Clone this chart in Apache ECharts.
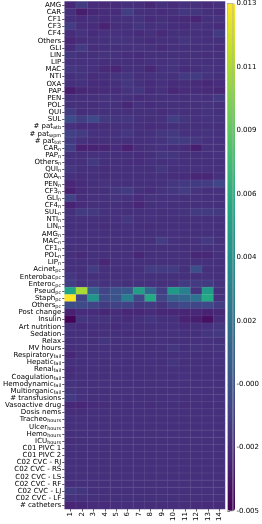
<!DOCTYPE html>
<html><head><meta charset="utf-8">
<script src="https://cdn.jsdelivr.net/npm/echarts@6/dist/echarts.min.js"></script>
<style>html,body{margin:0;padding:0;background:#fff}#c{width:262px;height:524px}</style>
</head><body><div id="c"></div>
<script>
// Row labels; text after '|' is rendered as a subscript
const rowLabels = ['AMG','CAR','CF1','CF3','CF4','Others','GLI','LIN','LIP','MAC','NTI','OXA','PAP','PEN','POL','QUI','SUL',
 '# pat|atb','# pat|wpm','# pat|tot','CAR|n','PAP|n','Others|n','QUI|n','OXA|n','PEN|n','CF3|n','GLI|n','CF4|n','SUL|n','NTI|n',
 'LIN|n','AMG|n','MAC|n','CF1|n','POL|n','LIP|n','Acinet|pc','Enterobac|pc','Enteroc|pc','Pseud|pc','Staph|pc','Others|pc',
 'Post change','Insulin','Art nutrition','Sedation','Relax','MV hours','Respiratory|fail','Hepatic|fail','Renal|fail',
 'Coagulation|fail','Hemodynamic|fail','Multiorganic|fail','# transfusions','Vasoactive drug','Dosis nems','Tracheo|hours',
 'Ulcer|hours','Hemo|hours','ICU|hours','C01 PIVC 1','C01 PIVC 2','C02 CVC - RJ','C02 CVC - RS','C02 CVC - LS','C02 CVC - RF',
 'C02 CVC - LJ','C02 CVC - LF','# catheters'];
const colLabels = ['1','2','3','4','5','6','7','8','9','10','11','12','13','14'];
const cbTickLabels = ['-0.005','-0.002','-0.000','0.002','0.004','0.006','0.009','0.011','0.013'];
const vMin = -0.0046;
const vMax = 0.0130;
const values = [
 [-0.0026,-0.0016,-0.0024,-0.0025,-0.0024,-0.0022,-0.0023,-0.0026,-0.0022,-0.0024,-0.0021,-0.0022,-0.0024,-0.0022],
 [-0.0022,-0.0032,-0.0026,-0.0024,-0.0024,-0.0014,-0.0022,-0.0022,-0.0024,-0.0022,-0.0018,-0.0019,-0.0022,-0.0024],
 [-0.0022,-0.0024,-0.0022,-0.0024,-0.0022,-0.0021,-0.0020,-0.0024,-0.0022,-0.0024,-0.0025,-0.0028,-0.0022,-0.0020],
 [-0.0015,-0.0023,-0.0024,-0.0029,-0.0023,-0.0022,-0.0019,-0.0022,-0.0021,-0.0023,-0.0024,-0.0020,-0.0022,-0.0024],
 [-0.0024,-0.0020,-0.0024,-0.0021,-0.0021,-0.0022,-0.0024,-0.0022,-0.0025,-0.0022,-0.0022,-0.0022,-0.0022,-0.0016],
 [-0.0027,-0.0023,-0.0022,-0.0022,-0.0020,-0.0020,-0.0022,-0.0024,-0.0022,-0.0022,-0.0019,-0.0021,-0.0022,-0.0022],
 [-0.0024,-0.0016,-0.0023,-0.0022,-0.0022,-0.0021,-0.0020,-0.0022,-0.0024,-0.0022,-0.0022,-0.0022,-0.0022,-0.0023],
 [-0.0019,-0.0022,-0.0022,-0.0020,-0.0021,-0.0023,-0.0024,-0.0022,-0.0022,-0.0022,-0.0022,-0.0022,-0.0023,-0.0022],
 [-0.0021,-0.0021,-0.0021,-0.0023,-0.0022,-0.0022,-0.0023,-0.0021,-0.0021,-0.0020,-0.0022,-0.0021,-0.0022,-0.0021],
 [-0.0018,-0.0020,-0.0021,-0.0025,-0.0028,-0.0022,-0.0022,-0.0026,-0.0021,-0.0020,-0.0024,-0.0022,-0.0020,-0.0021],
 [-0.0022,-0.0020,-0.0024,-0.0022,-0.0020,-0.0019,-0.0022,-0.0021,-0.0020,-0.0021,-0.0017,-0.0016,-0.0020,-0.0022],
 [-0.0022,-0.0021,-0.0024,-0.0024,-0.0022,-0.0018,-0.0022,-0.0024,-0.0021,-0.0024,-0.0023,-0.0025,-0.0026,-0.0024],
 [-0.0032,-0.0026,-0.0025,-0.0024,-0.0024,-0.0020,-0.0019,-0.0024,-0.0021,-0.0027,-0.0024,-0.0024,-0.0025,-0.0026],
 [-0.0022,-0.0022,-0.0022,-0.0020,-0.0021,-0.0022,-0.0024,-0.0022,-0.0022,-0.0021,-0.0022,-0.0020,-0.0021,-0.0017],
 [-0.0022,-0.0022,-0.0023,-0.0021,-0.0022,-0.0026,-0.0021,-0.0024,-0.0022,-0.0022,-0.0022,-0.0022,-0.0020,-0.0022],
 [-0.0016,-0.0023,-0.0022,-0.0022,-0.0022,-0.0022,-0.0022,-0.0022,-0.0023,-0.0021,-0.0022,-0.0022,-0.0020,-0.0022],
 [-0.0006,-0.0014,-0.0008,-0.0017,-0.0019,-0.0018,-0.0021,-0.0022,-0.0021,-0.0014,-0.0019,-0.0021,-0.0020,-0.0020],
 [-0.0021,-0.0024,-0.0024,-0.0023,-0.0022,-0.0021,-0.0022,-0.0024,-0.0023,-0.0022,-0.0022,-0.0022,-0.0022,-0.0022],
 [-0.0013,-0.0015,-0.0021,-0.0021,-0.0021,-0.0018,-0.0022,-0.0021,-0.0018,-0.0017,-0.0021,-0.0021,-0.0020,-0.0021],
 [-0.0016,-0.0021,-0.0023,-0.0022,-0.0022,-0.0022,-0.0022,-0.0021,-0.0020,-0.0016,-0.0016,-0.0018,-0.0021,-0.0021],
 [-0.0014,-0.0030,-0.0029,-0.0028,-0.0024,-0.0030,-0.0023,-0.0022,-0.0021,-0.0023,-0.0024,-0.0031,-0.0021,-0.0022],
 [-0.0022,-0.0022,-0.0021,-0.0021,-0.0022,-0.0022,-0.0024,-0.0022,-0.0018,-0.0019,-0.0022,-0.0022,-0.0022,-0.0021],
 [-0.0021,-0.0022,-0.0017,-0.0022,-0.0022,-0.0023,-0.0024,-0.0021,-0.0022,-0.0021,-0.0022,-0.0022,-0.0022,-0.0022],
 [-0.0018,-0.0022,-0.0022,-0.0023,-0.0022,-0.0022,-0.0022,-0.0022,-0.0018,-0.0022,-0.0021,-0.0021,-0.0021,-0.0022],
 [-0.0022,-0.0023,-0.0022,-0.0023,-0.0022,-0.0022,-0.0022,-0.0022,-0.0022,-0.0023,-0.0024,-0.0027,-0.0027,-0.0022],
 [-0.0027,-0.0024,-0.0022,-0.0020,-0.0021,-0.0022,-0.0022,-0.0022,-0.0021,-0.0018,-0.0017,-0.0016,-0.0015,-0.0010],
 [-0.0030,-0.0024,-0.0022,-0.0022,-0.0019,-0.0016,-0.0022,-0.0024,-0.0020,-0.0018,-0.0015,-0.0020,-0.0022,-0.0021],
 [-0.0012,-0.0023,-0.0021,-0.0021,-0.0020,-0.0021,-0.0024,-0.0020,-0.0021,-0.0021,-0.0022,-0.0021,-0.0022,-0.0022],
 [-0.0029,-0.0024,-0.0022,-0.0022,-0.0022,-0.0023,-0.0027,-0.0022,-0.0021,-0.0022,-0.0022,-0.0022,-0.0022,-0.0022],
 [-0.0022,-0.0016,-0.0017,-0.0021,-0.0021,-0.0022,-0.0022,-0.0021,-0.0022,-0.0021,-0.0020,-0.0016,-0.0016,-0.0017],
 [-0.0022,-0.0022,-0.0022,-0.0022,-0.0021,-0.0018,-0.0022,-0.0021,-0.0022,-0.0022,-0.0022,-0.0021,-0.0022,-0.0022],
 [-0.0022,-0.0022,-0.0022,-0.0023,-0.0022,-0.0021,-0.0022,-0.0023,-0.0022,-0.0022,-0.0022,-0.0022,-0.0021,-0.0022],
 [-0.0022,-0.0022,-0.0021,-0.0022,-0.0022,-0.0022,-0.0022,-0.0022,-0.0022,-0.0021,-0.0022,-0.0022,-0.0022,-0.0022],
 [-0.0021,-0.0022,-0.0022,-0.0022,-0.0022,-0.0022,-0.0022,-0.0022,-0.0015,-0.0021,-0.0022,-0.0021,-0.0017,-0.0022],
 [-0.0022,-0.0022,-0.0022,-0.0022,-0.0022,-0.0022,-0.0022,-0.0022,-0.0022,-0.0022,-0.0022,-0.0022,-0.0022,-0.0021],
 [-0.0022,-0.0025,-0.0022,-0.0022,-0.0022,-0.0022,-0.0027,-0.0022,-0.0022,-0.0022,-0.0022,-0.0027,-0.0026,-0.0022],
 [-0.0022,-0.0022,-0.0022,-0.0027,-0.0022,-0.0022,-0.0022,-0.0022,-0.0022,-0.0022,-0.0022,-0.0022,-0.0022,-0.0022],
 [-0.0022,-0.0022,-0.0015,-0.0022,-0.0022,-0.0022,-0.0022,-0.0015,-0.0016,-0.0016,-0.0022,-0.0004,-0.0022,-0.0022],
 [-0.0018,-0.0022,-0.0022,-0.0022,-0.0022,-0.0022,-0.0021,-0.0022,-0.0022,-0.0022,-0.0022,-0.0022,-0.0021,-0.0022],
 [-0.0014,-0.0020,-0.0018,-0.0021,-0.0020,-0.0022,-0.0021,-0.0021,-0.0022,-0.0021,-0.0016,-0.0016,-0.0016,-0.0021],
 [0.0056,0.0107,0.0008,-0.0011,-0.0002,0.0002,0.0052,0.0012,-0.0014,0.0048,0.0030,-0.0020,0.0050,-0.0022],
 [0.0130,-0.0011,0.0045,-0.0006,-0.0001,0.0028,-0.0009,0.0060,-0.0011,0.0009,0.0012,0.0020,0.0060,-0.0020],
 [-0.0006,-0.0006,-0.0011,-0.0016,-0.0012,-0.0012,-0.0018,-0.0016,-0.0020,-0.0012,-0.0008,-0.0010,-0.0008,-0.0015],
 [-0.0030,-0.0024,-0.0024,-0.0026,-0.0024,-0.0027,-0.0026,-0.0024,-0.0026,-0.0027,-0.0028,-0.0026,-0.0029,-0.0026],
 [-0.0044,-0.0019,-0.0020,-0.0020,-0.0022,-0.0024,-0.0022,-0.0019,-0.0022,-0.0022,-0.0029,-0.0031,-0.0038,-0.0024],
 [-0.0022,-0.0024,-0.0022,-0.0022,-0.0024,-0.0022,-0.0023,-0.0022,-0.0021,-0.0021,-0.0024,-0.0022,-0.0021,-0.0018],
 [-0.0022,-0.0022,-0.0023,-0.0022,-0.0022,-0.0023,-0.0023,-0.0022,-0.0022,-0.0021,-0.0022,-0.0022,-0.0019,-0.0017],
 [-0.0022,-0.0021,-0.0022,-0.0019,-0.0022,-0.0021,-0.0022,-0.0022,-0.0021,-0.0022,-0.0022,-0.0021,-0.0021,-0.0022],
 [-0.0023,-0.0022,-0.0022,-0.0021,-0.0022,-0.0022,-0.0022,-0.0022,-0.0022,-0.0019,-0.0022,-0.0020,-0.0021,-0.0020],
 [-0.0026,-0.0022,-0.0022,-0.0021,-0.0022,-0.0021,-0.0022,-0.0022,-0.0022,-0.0022,-0.0021,-0.0022,-0.0022,-0.0021],
 [-0.0022,-0.0022,-0.0021,-0.0022,-0.0021,-0.0022,-0.0022,-0.0021,-0.0022,-0.0019,-0.0022,-0.0022,-0.0022,-0.0021],
 [-0.0024,-0.0022,-0.0022,-0.0022,-0.0022,-0.0022,-0.0022,-0.0022,-0.0022,-0.0021,-0.0022,-0.0022,-0.0022,-0.0022],
 [-0.0023,-0.0022,-0.0022,-0.0022,-0.0021,-0.0022,-0.0022,-0.0022,-0.0022,-0.0022,-0.0021,-0.0022,-0.0022,-0.0022],
 [-0.0020,-0.0022,-0.0022,-0.0021,-0.0022,-0.0022,-0.0022,-0.0022,-0.0021,-0.0022,-0.0022,-0.0022,-0.0022,-0.0022],
 [-0.0019,-0.0021,-0.0022,-0.0022,-0.0022,-0.0021,-0.0022,-0.0022,-0.0022,-0.0022,-0.0022,-0.0021,-0.0022,-0.0022],
 [-0.0016,-0.0021,-0.0022,-0.0022,-0.0021,-0.0022,-0.0022,-0.0022,-0.0022,-0.0021,-0.0022,-0.0022,-0.0022,-0.0021],
 [-0.0026,-0.0027,-0.0024,-0.0023,-0.0022,-0.0023,-0.0022,-0.0023,-0.0022,-0.0022,-0.0023,-0.0022,-0.0023,-0.0022],
 [-0.0023,-0.0023,-0.0022,-0.0022,-0.0022,-0.0022,-0.0022,-0.0022,-0.0022,-0.0022,-0.0022,-0.0022,-0.0022,-0.0022],
 [-0.0022,-0.0022,-0.0022,-0.0022,-0.0022,-0.0022,-0.0022,-0.0022,-0.0022,-0.0022,-0.0022,-0.0022,-0.0022,-0.0022],
 [-0.0022,-0.0022,-0.0022,-0.0022,-0.0022,-0.0022,-0.0022,-0.0022,-0.0022,-0.0022,-0.0022,-0.0022,-0.0022,-0.0022],
 [-0.0022,-0.0022,-0.0022,-0.0022,-0.0022,-0.0022,-0.0022,-0.0022,-0.0022,-0.0022,-0.0022,-0.0022,-0.0022,-0.0022],
 [-0.0023,-0.0022,-0.0022,-0.0022,-0.0022,-0.0022,-0.0022,-0.0022,-0.0022,-0.0022,-0.0022,-0.0022,-0.0022,-0.0022],
 [-0.0022,-0.0022,-0.0022,-0.0022,-0.0022,-0.0022,-0.0022,-0.0022,-0.0022,-0.0022,-0.0022,-0.0022,-0.0022,-0.0022],
 [-0.0022,-0.0022,-0.0022,-0.0022,-0.0022,-0.0022,-0.0022,-0.0022,-0.0022,-0.0022,-0.0022,-0.0022,-0.0022,-0.0022],
 [-0.0022,-0.0022,-0.0022,-0.0022,-0.0022,-0.0022,-0.0022,-0.0022,-0.0022,-0.0022,-0.0022,-0.0022,-0.0022,-0.0022],
 [-0.0022,-0.0022,-0.0022,-0.0022,-0.0022,-0.0022,-0.0022,-0.0022,-0.0022,-0.0022,-0.0022,-0.0022,-0.0022,-0.0022],
 [-0.0022,-0.0022,-0.0022,-0.0022,-0.0022,-0.0022,-0.0022,-0.0022,-0.0022,-0.0022,-0.0022,-0.0022,-0.0022,-0.0022],
 [-0.0023,-0.0022,-0.0022,-0.0022,-0.0022,-0.0022,-0.0022,-0.0022,-0.0022,-0.0022,-0.0022,-0.0022,-0.0022,-0.0022],
 [-0.0016,-0.0019,-0.0022,-0.0022,-0.0022,-0.0022,-0.0022,-0.0022,-0.0022,-0.0022,-0.0022,-0.0022,-0.0022,-0.0022],
 [-0.0020,-0.0021,-0.0022,-0.0022,-0.0022,-0.0022,-0.0022,-0.0022,-0.0022,-0.0022,-0.0022,-0.0022,-0.0022,-0.0022],
 [-0.0028,-0.0026,-0.0024,-0.0024,-0.0023,-0.0023,-0.0023,-0.0023,-0.0023,-0.0023,-0.0023,-0.0024,-0.0024,-0.0024]
];
const viridis = ['#440154','#482475','#414487','#355f8d','#2a788e','#21918c','#22a884','#44bf70','#7ad151','#bddf26','#fde725'];

const data = [];
values.forEach((row, r) => row.forEach((v, c) => data.push([c, r, v])));

const FONT = 'DejaVu Sans';
const chart = echarts.init(document.getElementById('c'), null, {renderer: 'canvas'});
chart.setOption({
  animation: false,
  backgroundColor: '#fff',
  grid: [
    {left: 61.5, top: 1.5, width: 163.5, height: 507.5},
    {left: 227.5, top: 3, width: 7.5, height: 508, show: true, borderColor: '#b0b0b0', borderWidth: 0.8, z: 10}
  ],
  xAxis: [
    {type: 'category', gridIndex: 0, data: colLabels, position: 'bottom',
     axisLine: {show: false}, splitLine: {show: false},
     axisTick: {show: true, length: 2.5, alignWithLabel: true, lineStyle: {color: '#333', width: 0.8}},
     axisLabel: {rotate: 90, fontSize: 7, fontFamily: FONT, color: '#000', margin: 3, interval: 0}},
    {type: 'value', gridIndex: 1, show: false, min: 0, max: 1}
  ],
  yAxis: [
    {type: 'category', gridIndex: 0, data: rowLabels, inverse: true,
     axisLine: {show: false}, splitLine: {show: false},
     axisTick: {show: true, length: 2.5, alignWithLabel: true, lineStyle: {color: '#333', width: 0.8}},
     axisLabel: {interval: 0, margin: 3.5, color: '#000', fontFamily: FONT, fontSize: 7,
       formatter: (v) => { const p = v.split('|'); return p[1] ? '{m|' + p[0] + '}{s|' + p[1] + '}' : '{m|' + p[0] + '}'; },
       rich: {
         m: {fontSize: 7, fontFamily: FONT, color: '#000', lineHeight: 8},
         s: {fontSize: 5, fontFamily: FONT, color: '#000', lineHeight: 4, verticalAlign: 'bottom'}
       }}},
    {type: 'category', gridIndex: 1, data: cbTickLabels, boundaryGap: false, position: 'right',
     axisLine: {show: false}, splitLine: {show: false},
     axisTick: {show: true, length: 2.5, lineStyle: {color: '#333', width: 0.8}},
     axisLabel: {fontSize: 7, fontFamily: FONT, color: '#000', margin: 3.5, interval: 0}}
  ],
  visualMap: {
    type: 'continuous', min: vMin, max: vMax, seriesIndex: 0, calculable: false,
    orient: 'vertical', left: 227.5, top: 3, itemWidth: 7.5, itemHeight: 508, padding: 0,
    text: null, showLabel: false, hoverLink: false,
    inRange: {color: viridis}
  },
  series: [
    {type: 'heatmap', xAxisIndex: 0, yAxisIndex: 0, data: data,
     itemStyle: {borderColor: 'rgba(255,255,255,0.13)', borderWidth: 0.6},
     emphasis: {disabled: true}, silent: true},
    {type: 'line', xAxisIndex: 1, yAxisIndex: 1, data: [], silent: true}
  ]
});
</script>
</body></html>
